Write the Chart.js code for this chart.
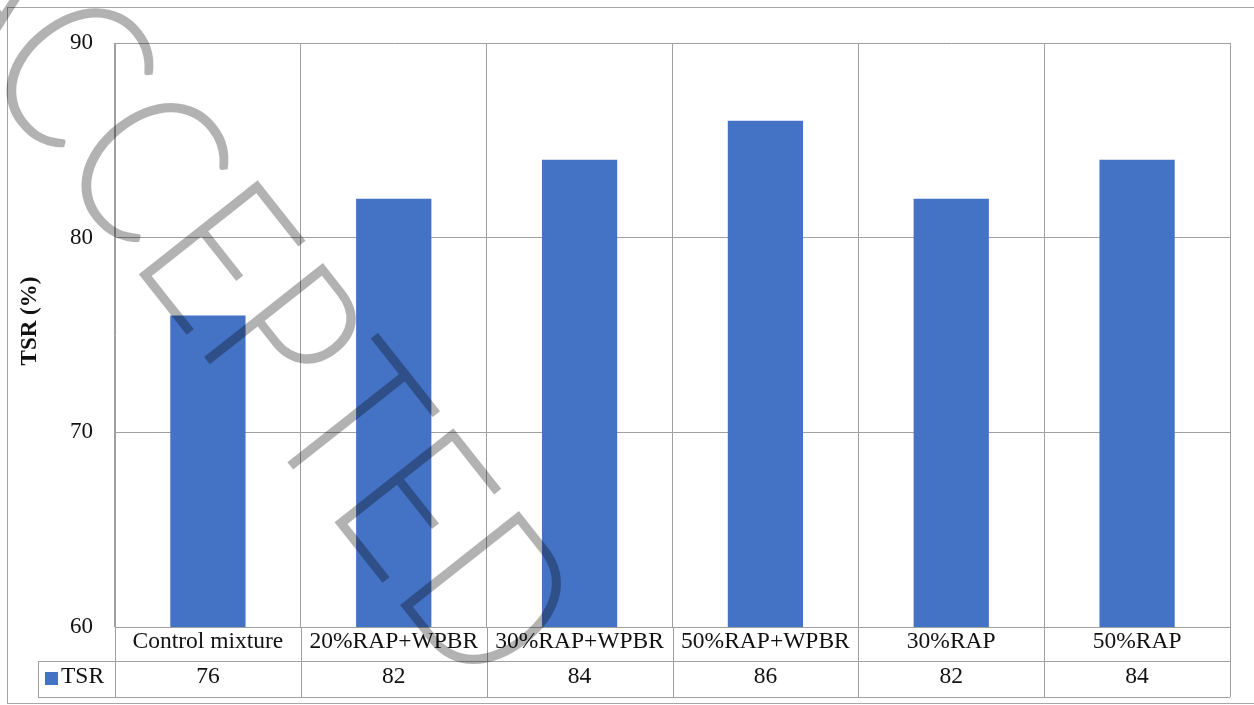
<!DOCTYPE html>
<html>
<head>
<meta charset="utf-8">
<title>TSR</title>
<script src="https://cdn.jsdelivr.net/npm/chart.js@4.4.1/dist/chart.umd.min.js"></script>
<style>
  html, body { margin: 0; padding: 0; background: #fff; }
  canvas { display: block; }
</style>
</head>
<body>
<canvas id="tsrChart" width="1254" height="705"></canvas>
<script>
// Chart data
const categories = ['Control mixture', '20%RAP+WPBR', '30%RAP+WPBR', '50%RAP+WPBR', '30%RAP', '50%RAP'];
const tsrValues = [76, 82, 84, 86, 82, 84];
const yTicks = [60, 70, 80, 90];
const seriesName = 'TSR';
const axisTitle = 'TSR (%)';
const watermarkText = 'ACCEPTED';

// Styles
const barColor = '#4472C4';
const gridColor = '#a0a0a0';
const textColor = '#111';
const serif = '"Liberation Serif", "Times New Roman", serif';

// Frame round the whole figure
const framePlugin = {
    id: 'frame',
    beforeDraw(chart) {
        const ctx = chart.ctx;
        ctx.save();
        ctx.fillStyle = '#fff';
        ctx.fillRect(0, 0, chart.width, chart.height);
        ctx.strokeStyle = '#a6a6a6';
        ctx.lineWidth = 1;
        ctx.strokeRect(7.5, 7.5, chart.width, chart.height - 9);
        ctx.restore();
    }
};

// Data table under the plot (Excel style)
const dataTablePlugin = {
    id: 'dataTable',
    afterDraw(chart) {
        const ctx = chart.ctx;
        const x = chart.scales.x;
        const area = chart.chartArea;
        const rowMid = area.bottom + 34;
        const rowBot = area.bottom + 70;
        const keyLeft = 38;

        ctx.save();
        ctx.strokeStyle = gridColor;
        ctx.lineWidth = 1;
        ctx.beginPath();
        // horizontal rules
        ctx.moveTo(keyLeft, rowMid + 0.5);
        ctx.lineTo(area.right, rowMid + 0.5);
        ctx.moveTo(keyLeft, rowBot + 0.5);
        ctx.lineTo(area.right, rowBot + 0.5);
        // key cell left edge
        ctx.moveTo(keyLeft + 0.5, rowMid);
        ctx.lineTo(keyLeft + 0.5, rowBot);
        // category boundaries
        for (let i = 0; i <= categories.length; i++) {
            const bx = Math.round(x.getPixelForValue(i - 0.5)) + 0.5;
            ctx.moveTo(bx, area.bottom);
            ctx.lineTo(bx, rowBot);
        }
        ctx.stroke();

        // legend key
        ctx.fillStyle = barColor;
        ctx.fillRect(45, rowMid + 11, 13, 13);
        ctx.fillStyle = textColor;
        ctx.font = '23.5px ' + serif;
        ctx.textBaseline = 'middle';
        ctx.textAlign = 'left';
        ctx.fillText(seriesName, 61, rowMid + 16);

        // values
        ctx.textAlign = 'center';
        tsrValues.forEach((v, i) => {
            ctx.fillText(String(v), x.getPixelForValue(i), rowMid + 16);
        });

        // y axis title
        ctx.font = 'bold 23px ' + serif;
        ctx.translate(30, (area.top + area.bottom) / 2 - 14);
        ctx.rotate(-Math.PI / 2);
        ctx.fillText(axisTitle, 0, 0);
        ctx.restore();
    }
};

// Translucent watermark across the figure
const watermarkPlugin = {
    id: 'watermark',
    afterDraw(chart) {
        const ctx = chart.ctx;
        const size = 214;
        ctx.save();
        ctx.font = '300 ' + size + 'px Lato, Inter, "DejaVu Sans", sans-serif';
        const w = ctx.measureText(watermarkText).width;
        ctx.translate(249, 290);
        ctx.rotate(51.7 * Math.PI / 180);
        ctx.scale(920 / w, 1);
        ctx.fillStyle = 'rgba(0, 0, 0, 0.3)';
        ctx.textAlign = 'center';
        ctx.textBaseline = 'alphabetic';
        ctx.fillText(watermarkText, 0, size * 0.717 / 2);
        ctx.restore();
    }
};

const tsrChart = new Chart(document.getElementById('tsrChart'), {
    type: 'bar',
    data: {
        labels: categories,
        datasets: [{
            label: seriesName,
            data: tsrValues,
            backgroundColor: barColor,
            borderWidth: 0,
            barPercentage: 0.405,
            categoryPercentage: 1
        }]
    },
    options: {
        responsive: false,
        animation: false,
        devicePixelRatio: 1,
        layout: {
            padding: { top: 43, right: 24, left: 0, bottom: 0 }
        },
        scales: {
            x: {
                grid: {
                    color: gridColor,
                    drawTicks: false,
                    offset: true
                },
                border: { color: gridColor },
                ticks: {
                    color: textColor,
                    font: { family: serif, size: 23.5 },
                    padding: 1,
                    maxRotation: 0,
                    autoSkip: false
                },
                afterFit(scale) {
                    scale.height = 78;
                }
            },
            y: {
                min: yTicks[0],
                max: yTicks[yTicks.length - 1],
                grid: {
                    color: gridColor,
                    drawTicks: false
                },
                border: { color: gridColor },
                ticks: {
                    stepSize: yTicks[1] - yTicks[0],
                    color: textColor,
                    font: { family: serif, size: 23 },
                    padding: 22
                },
                afterFit(scale) {
                    scale.width = 115;
                }
            }
        },
        plugins: {
            legend: { display: false },
            tooltip: { enabled: false },
            title: { display: false }
        }
    },
    plugins: [framePlugin, dataTablePlugin, watermarkPlugin]
});
</script>
</body>
</html>
